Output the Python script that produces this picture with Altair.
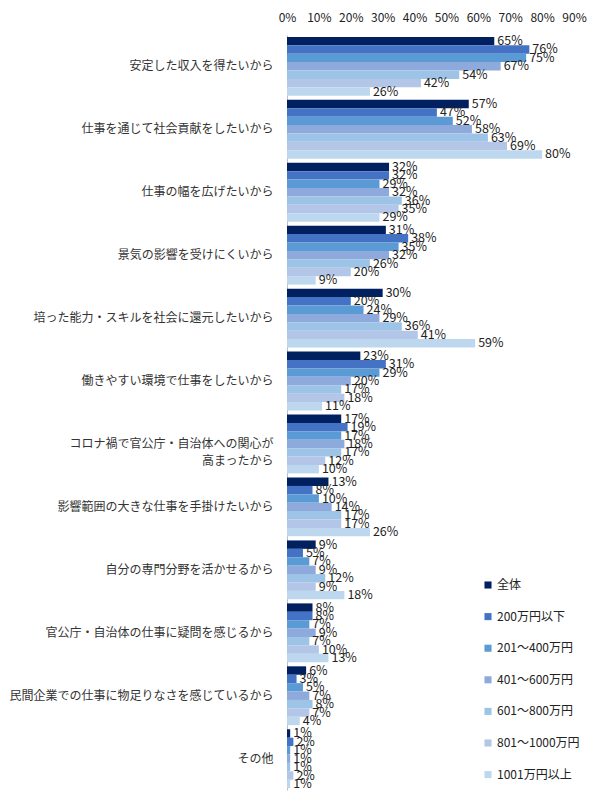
import altair as alt
import pandas as pd

categories = [
    "安定した収入を得たいから",
    "仕事を通じて社会貢献をしたいから",
    "仕事の幅を広げたいから",
    "景気の影響を受けにくいから",
    "培った能力・スキルを社会に還元したいから",
    "働きやすい環境で仕事をしたいから",
    "コロナ禍で官公庁・自治体への関心が\n高まったから",
    "影響範囲の大きな仕事を手掛けたいから",
    "自分の専門分野を活かせるから",
    "官公庁・自治体の仕事に疑問を感じるから",
    "民間企業での仕事に物足りなさを感じているから",
    "その他",
]
series = ["全体", "200万円以下", "201～400万円", "401～600万円", "601～800万円", "801～1000万円", "1001万円以上"]
colors = ["#002060", "#4472C4", "#5B9BD5", "#8EA9DB", "#9DC3E6", "#B4C6E7", "#BDD7EE"]

v_all = [65, 57, 32, 31, 30, 23, 17, 13, 9, 8, 6, 1]
v_200 = [76, 47, 32, 38, 20, 31, 19, 8, 5, 8, 3, 2]
v_400 = [75, 52, 29, 35, 24, 29, 17, 10, 7, 7, 5, 1]
v_600 = [67, 58, 32, 32, 29, 20, 18, 14, 9, 9, 7, 1]
v_800 = [54, 63, 36, 26, 36, 17, 17, 17, 12, 7, 8, 1]
v_1000 = [42, 69, 35, 20, 41, 18, 12, 17, 9, 10, 7, 2]
v_1001 = [26, 80, 29, 9, 59, 11, 10, 26, 18, 13, 4, 1]

values = [v_all, v_200, v_400, v_600, v_800, v_1000, v_1001]

rows = []
for j, s in enumerate(series):
    for i, c in enumerate(categories):
        rows.append({"cat": c, "series": s, "value": values[j][i], "label": f"{values[j][i]}%"})
df = pd.DataFrame(rows)

FONT = "Noto Sans CJK JP"
tick_values = [0, 10, 20, 30, 40, 50, 60, 70, 80, 90]

y_axis = alt.Axis(
    title=None,
    ticks=False,
    labelPadding=14,
    labelFontSize=12,
    labelLimit=320,
    labelColor="#333333",
    labelFont=FONT,
    domainColor="#bfbfbf",
    labelExpr="split(datum.label, '\\n')",
    labelLineHeight=17,
)
x_axis = alt.Axis(
    orient="top",
    title=None,
    values=tick_values,
    tickCount=10,
    labelExpr="datum.value + '%'",
    labelOverlap=False,
    labelBound=False,
    labelFlush=False,
    ticks=False,
    domain=False,
    grid=False,
    labelFontSize=12,
    labelFont=FONT,
    labelColor="#222222",
    labelPadding=11,
)
y_scale = alt.Scale(paddingInner=0.065, paddingOuter=0.03)
x_scale = alt.Scale(domain=[0, 90], nice=False)

y_enc = alt.Y("cat:N", sort=categories, scale=y_scale, axis=y_axis)
x_enc = alt.X("value:Q", scale=x_scale, axis=x_axis)
yoff = alt.YOffset("series:N", sort=series)

bars = alt.Chart(df).mark_bar().encode(
    y=y_enc,
    yOffset=yoff,
    x=x_enc,
    color=alt.Color(
        "series:N",
        sort=series,
        scale=alt.Scale(domain=series, range=colors),
        legend=alt.Legend(
            title=None,
            orient="none",
            legendX=195,
            legendY=544,
            symbolType="square",
            symbolSize=50,
            symbolStrokeWidth=0,
            labelFontSize=12,
            labelFont=FONT,
            labelColor="#222222",
            rowPadding=19.6,
            labelOffset=3,
        ),
    ),
)

texts = alt.Chart(df).mark_text(
    align="left", baseline="middle", dx=3, fontSize=12.5, font=FONT, color="#222222"
).encode(
    y=y_enc,
    yOffset=yoff,
    x=x_enc,
    text="label:N",
)

chart = (
    alt.layer(bars, texts)
    .properties(
        width=287,
        height=755,
        autosize=alt.AutoSizeParams(type="none"),
        padding={"left": 279, "top": 27, "right": 20, "bottom": 5},
    )
    .configure_view(stroke=None)
)

chart.save("out.html", embed_options={"renderer": "svg", "actions": False})
